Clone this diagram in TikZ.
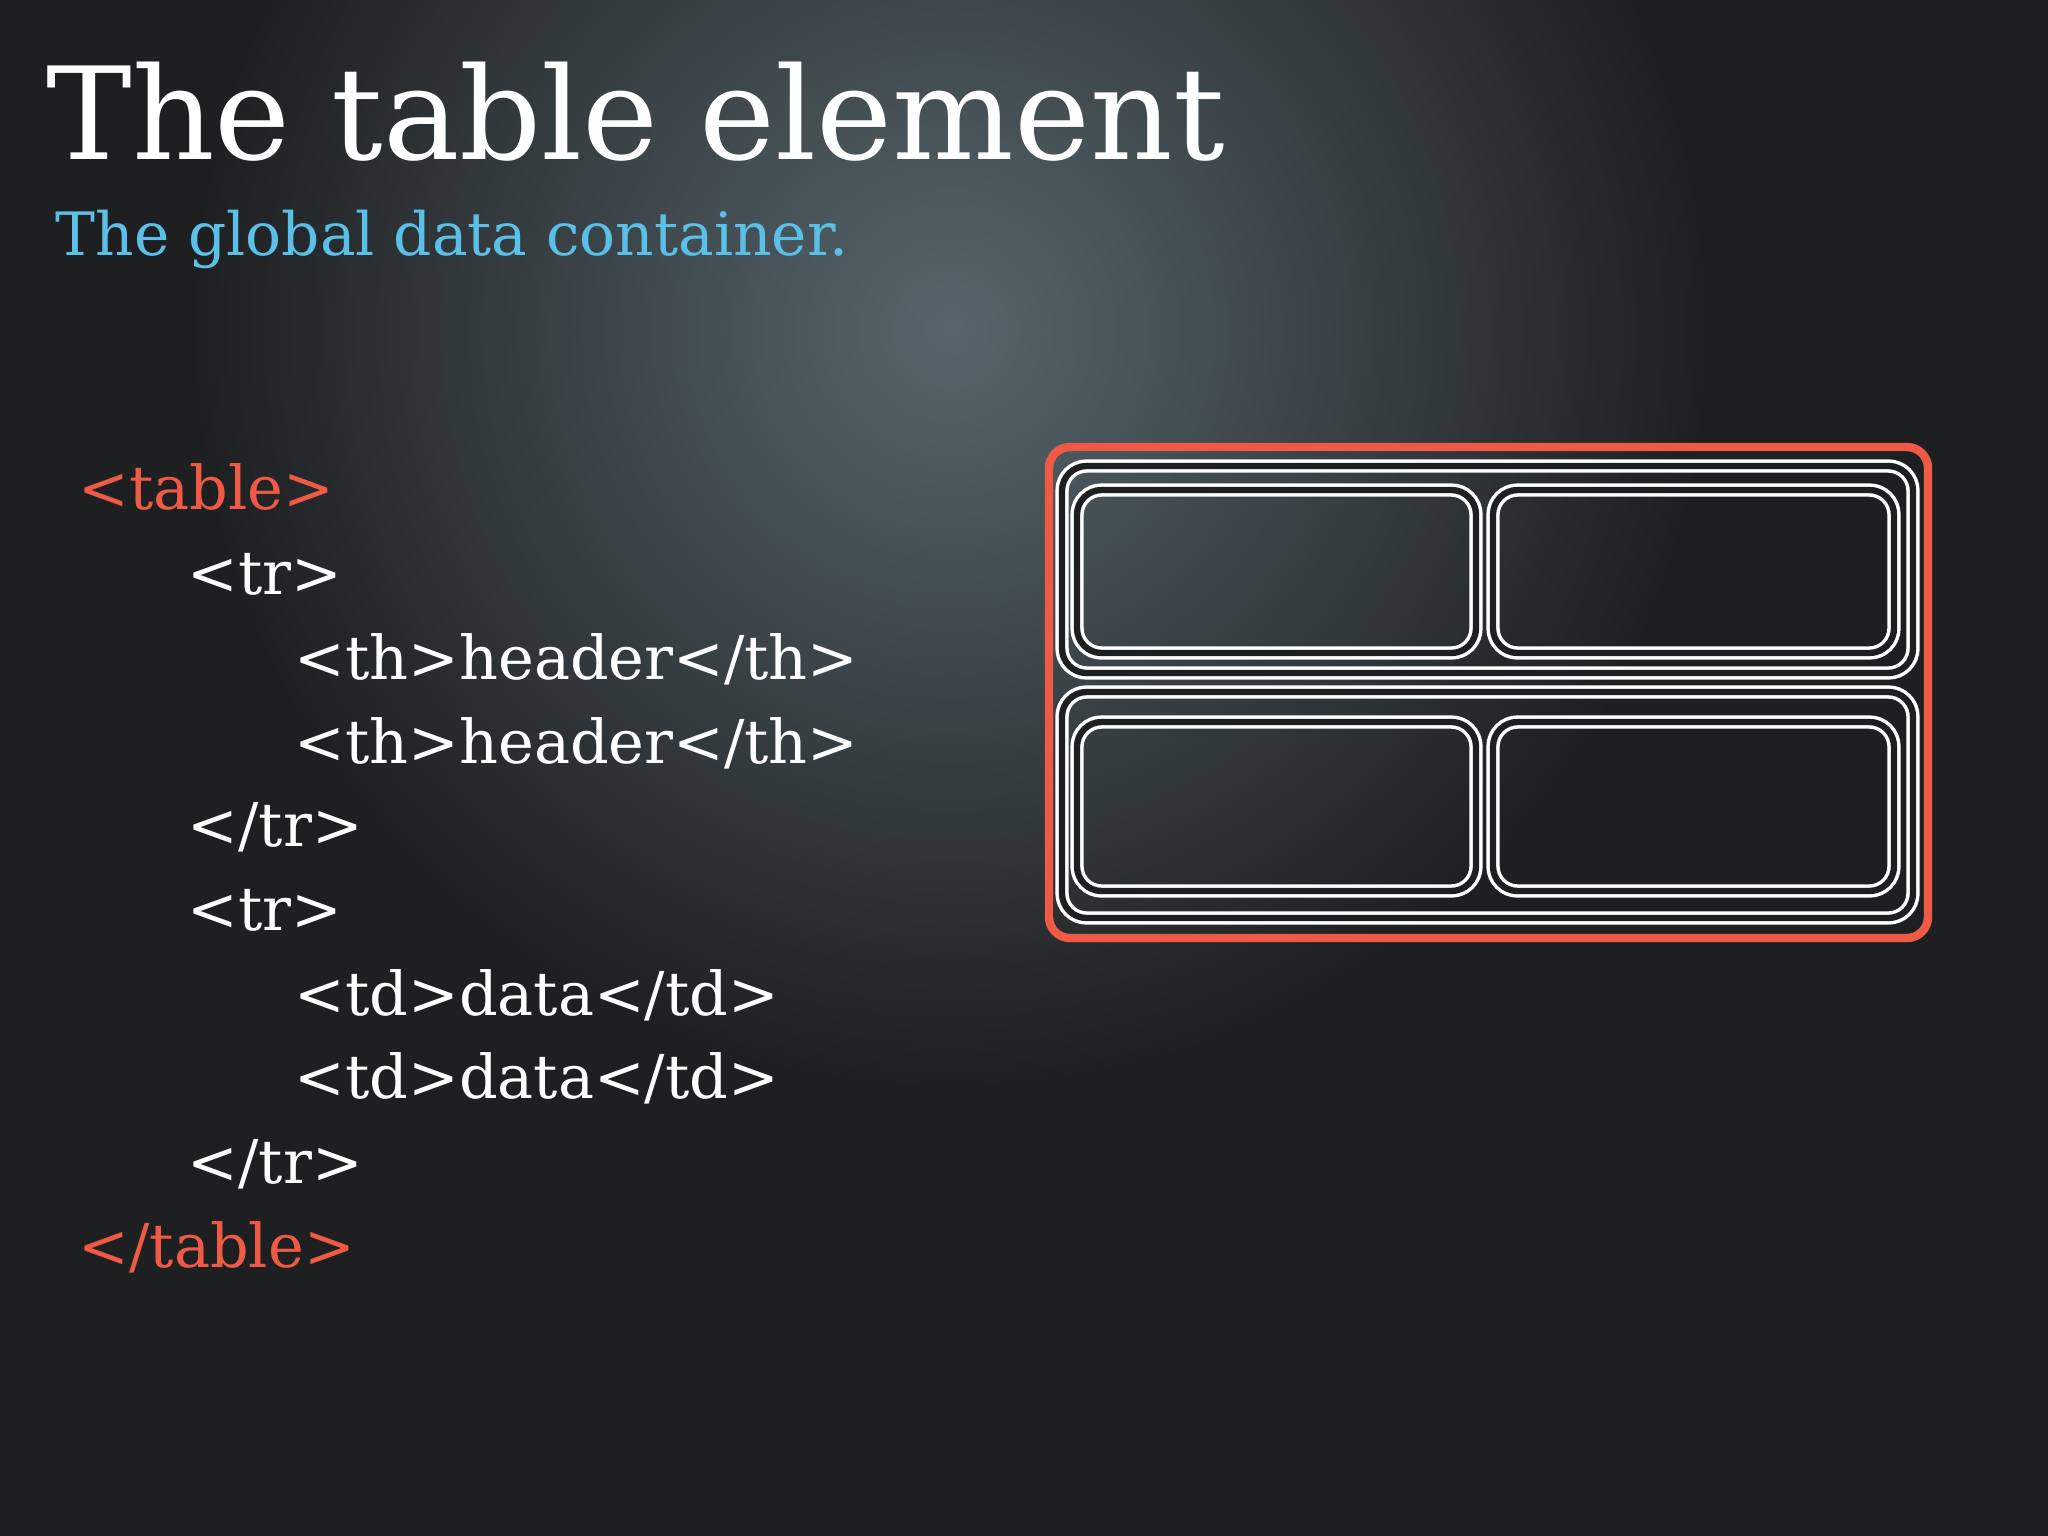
\documentclass[tikz,border=0pt]{standalone}
\usepackage{fontspec}
\setmainfont{DejaVu Serif}
\definecolor{bg}{HTML}{1E1F21}
\definecolor{glow}{HTML}{56666C}
\definecolor{subblue}{HTML}{5BC0E8}
\definecolor{tagred}{HTML}{EE5A45}
\begin{document}
\begin{tikzpicture}[x=0.01cm,y=-0.01cm,
  code/.style={anchor=base west,inner sep=0,text=white,font=\fontsize{17.2}{20}\selectfont},
  redcode/.style={code,text=tagred},
  sketch/.style={draw=white,line width=1pt,double=bg,double distance=1.8pt,rounded corners=7pt},
  redbox/.style={draw=tagred,line width=2.4pt,rounded corners=6pt}]
\useasboundingbox (0,0) rectangle (2048,1536);
\begin{scope}
\clip (0,0) rectangle (2048,1536);
\fill[bg] (0,0) rectangle (2048,1536);
\shade[inner color=glow,outer color=bg] (950,330) circle (760);
\end{scope}
\node[anchor=base west,inner sep=0,text=white,font=\fontsize{36.5}{42}\selectfont] (title) at (46,159) {The table element};
\node[anchor=base west,inner sep=0,text=subblue,font=\fontsize{17}{20}\selectfont] (sub) at (55,255) {The global data container.};
\node[redcode] (l1) at (78,509) {<table>};
\node[code] (l2) at (187,594) {<tr>};
\node[code] (l3) at (294,679) {<th>header</th>};
\node[code] (l4) at (294,763) {<th>header</th>};
\node[code] (l5) at (187,846) {</tr>};
\node[code] (l6) at (187,930) {<tr>};
\node[code] (l7) at (294,1015) {<td>data</td>};
\node[code] (l8) at (294,1098) {<td>data</td>};
\node[code] (l9) at (187,1183) {</tr>};
\node[redcode] (l10) at (78,1267) {</table>};
\draw[redbox] (1049,447) rectangle (1928,938);
\draw[sketch] (1062,466) rectangle (1913,673);
\draw[sketch] (1062,692) rectangle (1913,918);
\draw[sketch] (1077,490) rectangle (1476,653);
\draw[sketch] (1493,490) rectangle (1894,653);
\draw[sketch] (1077,722) rectangle (1476,891);
\draw[sketch] (1493,722) rectangle (1894,891);
\end{tikzpicture}
\end{document}
